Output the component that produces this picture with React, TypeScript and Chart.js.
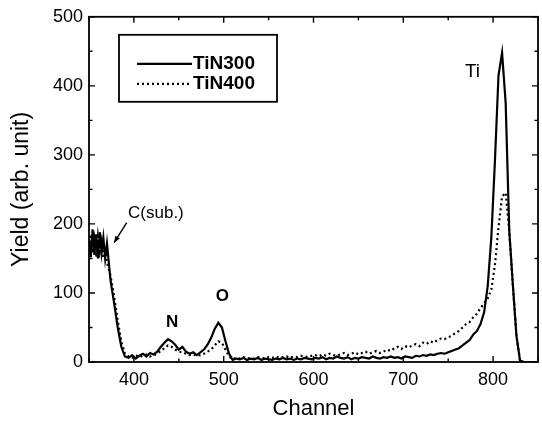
import React, { useEffect, useRef } from "react";
import { Chart, registerables } from "chart.js";

Chart.register(...registerables);

const channels = [
  350, 352, 354, 356, 358, 360, 362, 364, 366, 368, 370,
  374, 378, 382, 386,
  390, 394, 398, 402, 406, 410, 414, 418, 422, 426,
  430, 434, 438, 442, 446, 450, 454, 458, 462, 466,
  470, 474, 478, 482, 486, 490, 494, 498, 502, 506,
  510, 514, 518, 522, 526, 530, 534, 538, 542, 546,
  550, 554, 558, 562, 566, 570, 574, 578, 582, 586,
  590, 594, 598, 602, 606, 610, 614, 618, 622, 626,
  630, 634, 638, 642, 646, 650, 654, 658, 662, 666,
  670, 674, 678, 682, 686, 690, 694, 698, 702, 706,
  710, 714, 718, 722, 726, 730, 734, 738, 742, 746,
  750, 754, 758, 762, 766, 770, 774, 778, 782, 786,
  790, 794, 798, 802, 806, 810, 814, 818, 822, 826,
  830, 834, 838, 842, 846, 850,
];

const tin300 = [
  178, 152, 192, 155, 185, 150, 188, 158, 180, 150, 172,
  118, 85, 50, 22,
  8, 6, 10, 5, 9, 12, 8, 13, 11, 15,
  22, 28, 33, 30, 25, 18, 22, 15, 12, 14,
  10, 14, 18, 25, 35, 48, 57, 50, 30, 12,
  3, 5, 4, 6, 3, 5, 4, 6, 3, 5,
  4, 3, 5, 4, 6, 4, 5, 3, 5, 4,
  6, 5, 4, 6, 5, 7, 4, 6, 5, 8,
  6, 5, 7, 4, 6, 5, 7, 6, 5, 8,
  6, 5, 7, 6, 8, 6, 7, 5, 8, 7,
  6, 9, 8, 10, 9, 11, 10, 12, 13, 12,
  14, 16, 18, 20, 24, 28, 32, 40, 45, 55,
  72, 110, 180, 290, 415, 448, 375, 190, 112, 38,
  2, 0, 0, 0, 0, 0,
];

const tin400 = [
  165, 185, 158, 178, 152, 182, 160, 175, 150, 165, 145,
  125, 95, 60, 30,
  12, 8, 6, 10, 7, 9, 11, 8, 10, 12,
  16, 20, 24, 22, 18, 15, 14, 12, 10, 11,
  9, 10, 12, 15, 18, 24, 30, 28, 18, 8,
  4, 6, 5, 7, 5, 6, 5, 7, 6, 5,
  7, 6, 8, 6, 7, 8, 6, 8, 7, 9,
  8, 7, 9, 10, 8, 11, 9, 12, 10, 9,
  11, 13, 10, 12, 14, 11, 13, 15, 12, 14,
  16, 13, 15, 18, 16, 20, 22, 19, 23, 21,
  24, 26, 23, 28, 26, 30, 28, 32, 34, 33,
  36, 38, 42, 45, 50, 55, 58, 65, 70, 78,
  85, 92, 105, 140, 195, 240, 245, 190, 110, 38,
  2, 0, 0, 0, 0, 0,
];

const seriesLabels = ["TiN300", "TiN400"];
const xTicks = [400, 500, 600, 700, 800];
const yTicks = [0, 100, 200, 300, 400, 500];

const annotationTexts = ["Ti", "C(sub.)", "N", "O"];
const annotationX = [777, 424.5, 442.5, 498.5];
const annotationY = [421, 215, 57, 95];
const arrowFrom = [392, 202];
const arrowTo = [378, 173];

const FONT = "'Liberation Sans', Arial, Helvetica, sans-serif";

const decorPlugin = {
  id: "decor",
  afterDraw(chart: any) {
    const { ctx, chartArea, scales } = chart;
    const { left, right, top, bottom } = chartArea;
    const xs = scales.x;
    const ys = scales.y;
    ctx.save();
    ctx.strokeStyle = "#000";
    ctx.lineWidth = 1.8;
    ctx.strokeRect(left, top, right - left, bottom - top);

    ctx.lineWidth = 1.4;
    ctx.beginPath();
    for (let v = 350; v <= 850; v += 50) {
      const px = xs.getPixelForValue(v);
      const len = v % 100 === 0 ? 6 : 3.5;
      ctx.moveTo(px, bottom);
      ctx.lineTo(px, bottom - len);
      ctx.moveTo(px, top);
      ctx.lineTo(px, top + len);
    }
    for (let v = 0; v <= 500; v += 50) {
      const py = ys.getPixelForValue(v);
      const len = v % 100 === 0 ? 6 : 3.5;
      ctx.moveTo(left, py);
      ctx.lineTo(left + len, py);
      ctx.moveTo(right, py);
      ctx.lineTo(right - len, py);
    }
    ctx.stroke();

    // legend box
    const bx = left + 30;
    const by = top + 18;
    const bw = 158;
    const bh = 67;
    ctx.lineWidth = 1.8;
    ctx.strokeRect(bx, by, bw, bh);
    chart.data.datasets.forEach((ds: any, i: number) => {
      const ly = by + 29 + i * 20;
      ctx.beginPath();
      ctx.lineWidth = ds.borderWidth;
      ctx.setLineDash(ds.borderDash || []);
      ctx.moveTo(bx + 18, ly);
      ctx.lineTo(bx + 73, ly);
      ctx.stroke();
      ctx.setLineDash([]);
      ctx.fillStyle = "#000";
      ctx.font = `bold 19px ${FONT}`;
      ctx.textAlign = "left";
      ctx.textBaseline = "middle";
      ctx.fillText(ds.label, bx + 74, ly);
    });

    // annotations
    ctx.fillStyle = "#000";
    ctx.textAlign = "center";
    ctx.textBaseline = "middle";
    annotationTexts.forEach((t, i) => {
      ctx.font = t === "N" || t === "O" ? `bold 17px ${FONT}` : `${t === "Ti" ? 19 : 17}px ${FONT}`;
      ctx.fillText(t, xs.getPixelForValue(annotationX[i]), ys.getPixelForValue(annotationY[i]));
    });

    // arrow
    const x1 = xs.getPixelForValue(arrowFrom[0]);
    const y1 = ys.getPixelForValue(arrowFrom[1]);
    const x2 = xs.getPixelForValue(arrowTo[0]);
    const y2 = ys.getPixelForValue(arrowTo[1]);
    ctx.lineWidth = 1.4;
    ctx.beginPath();
    ctx.moveTo(x1, y1);
    ctx.lineTo(x2, y2);
    ctx.stroke();
    const ang = Math.atan2(y2 - y1, x2 - x1);
    const hl = 7;
    ctx.beginPath();
    ctx.moveTo(x2, y2);
    ctx.lineTo(x2 - hl * Math.cos(ang - 0.4), y2 - hl * Math.sin(ang - 0.4));
    ctx.lineTo(x2 - hl * Math.cos(ang + 0.4), y2 - hl * Math.sin(ang + 0.4));
    ctx.closePath();
    ctx.fill();
    ctx.restore();
  },
};

export default function App() {
  const ref = useRef<HTMLCanvasElement | null>(null);
  useEffect(() => {
    if (!ref.current) return;
    Chart.defaults.font.family = FONT;
    Chart.defaults.color = "#000";
    const chart = new Chart(ref.current, {
      type: "line",
      data: {
        datasets: [
          {
            label: seriesLabels[0],
            data: channels.map((c, i) => ({ x: c, y: tin300[i] })),
            borderColor: "#000",
            borderWidth: 2.2,
            pointRadius: 0,
            tension: 0,
          },
          {
            label: seriesLabels[1],
            data: channels.map((c, i) => ({ x: c, y: tin400[i] })),
            borderColor: "#000",
            borderWidth: 2.2,
            borderDash: [2, 3],
            pointRadius: 0,
            tension: 0,
          },
        ],
      },
      options: {
        responsive: false,
        animation: false,
        layout: { padding: { top: 15, right: 4, left: 0, bottom: 0 } },
        plugins: { legend: { display: false }, tooltip: { enabled: false } },
        scales: {
          x: {
            type: "linear",
            min: 350,
            max: 850,
            grid: { display: false, drawTicks: false },
            border: { display: false },
            afterBuildTicks: (s: any) => {
              s.ticks = xTicks.map((v) => ({ value: v }));
            },
            afterFit: (s: any) => {
              s.height = 61;
            },
            ticks: { font: { size: 18 }, color: "#000", padding: 7, maxRotation: 0 },
            title: {
              display: true,
              text: "Channel",
              font: { size: 22 },
              color: "#000",
              padding: { top: 0, bottom: 1 },
            },
          },
          y: {
            type: "linear",
            min: 0,
            max: 500,
            grid: { display: false, drawTicks: false },
            border: { display: false },
            afterBuildTicks: (s: any) => {
              s.ticks = yTicks.map((v) => ({ value: v }));
            },
            afterFit: (s: any) => {
              s.width = 89;
            },
            ticks: { font: { size: 18 }, color: "#000", padding: 6 },
            title: {
              display: true,
              text: "Yield (arb. unit)",
              font: { size: 23 },
              color: "#000",
              padding: { top: 8, bottom: 0 },
            },
          },
        },
      },
      plugins: [decorPlugin],
    } as any);
    return () => chart.destroy();
  }, []);
  return (
    <div style={{ position: "fixed", left: 0, top: 0, width: 542, height: 423, background: "#fff" }}>
      <canvas ref={ref} width={542} height={423} style={{ display: "block" }} />
    </div>
  );
}
